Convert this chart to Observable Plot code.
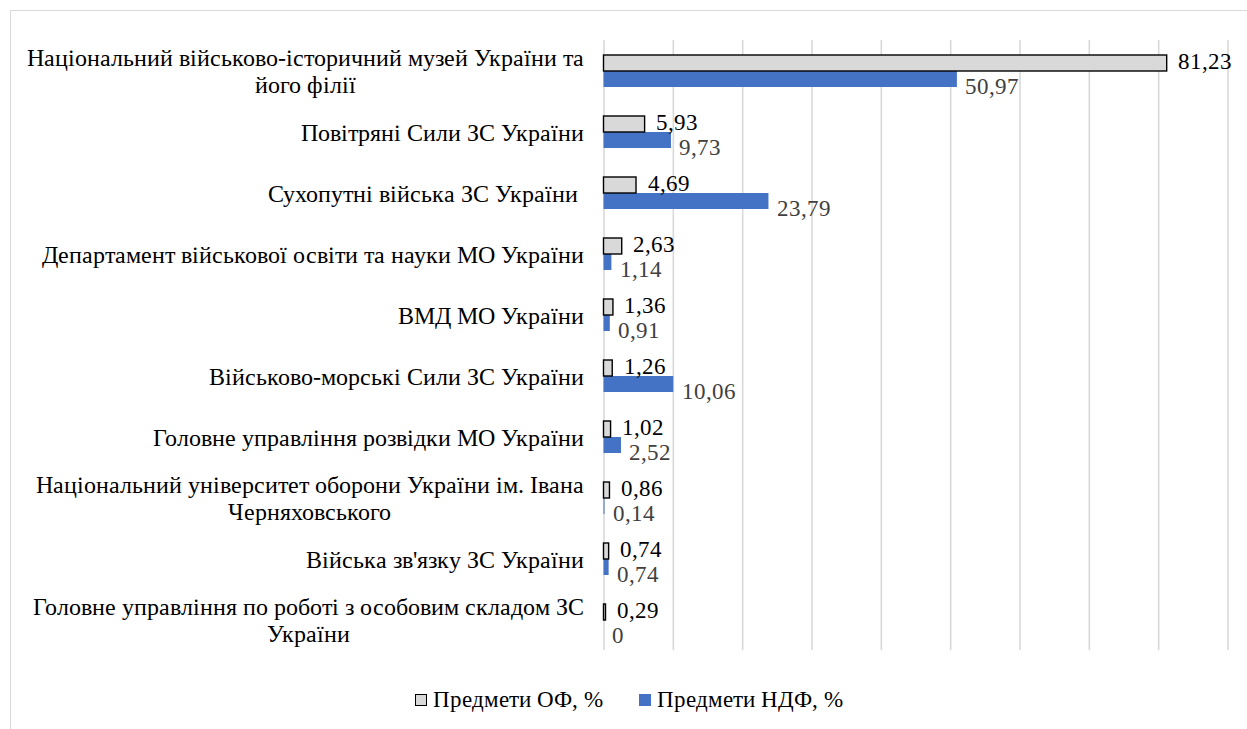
<!DOCTYPE html>
<html>
<head>
<meta charset="utf-8">
<script src="https://cdn.jsdelivr.net/npm/d3@7"></script>
<script src="https://cdn.jsdelivr.net/npm/@observablehq/plot@0.6"></script>
<style>
  @font-face { font-family: "ChartSerif"; src: local("Liberation Serif"), local("LiberationSerif"), local("Times New Roman"); }
  html, body { margin: 0; padding: 0; background: #fff; overflow: hidden; }
  #frame {
    position: absolute; left: 10px; top: 10px; width: 1260px; height: 740px;
    border-left: 1px solid #d9d9d9; border-top: 1px solid #d9d9d9; box-sizing: border-box;
  }
  #chart { position: absolute; left: -1px; top: -1px; }
  #chart svg text { white-space: pre; }
  #legend {
    position: absolute; left: -1px; top: 659px; width: 1237px; height: 60px;
    display: flex; justify-content: center; align-items: center; gap: 36px;
    font-size: 23px; color: #000;
  }
  .item { display: flex; align-items: center; }
  .sw { width: 12px; height: 12px; box-sizing: border-box; margin-right: 6px; }
</style>
</head>
<body>
<div id="frame">
  <div id="chart"></div>
  <div id="legend"></div>
</div>
<script>
const categories = [
  "Національний військово-історичний музей України та\nйого філії",
  "Повітряні Сили ЗС України",
  "Сухопутні війська ЗС України ",
  "Департамент військової освіти та науки МО України",
  "ВМД МО України",
  "Військово-морські Сили ЗС України",
  "Головне управління розвідки МО України",
  "Національний університет оборони України ім. Івана\nЧерняховського",
  "Війська зв'язку ЗС України",
  "Головне управління по роботі з особовим складом ЗС\nУкраїни"
];
const ofValues  = [81.23, 5.93, 4.69, 2.63, 1.36, 1.26, 1.02, 0.86, 0.74, 0.29];
const ndfValues = [50.97, 9.73, 23.79, 1.14, 0.91, 10.06, 2.52, 0.14, 0.74, 0];
const seriesNames = ["Предмети ОФ, %", "Предмети НДФ, %"];
const gridTicks = [0, 10, 20, 30, 40, 50, 60, 70, 80, 90];

const ofColor = "#d9d9d9";
const ndfColor = "#4472c4";
const font = "ChartSerif, 'Liberation Serif', 'Times New Roman', serif";

const rows = [];
categories.forEach((c, i) => {
  rows.push({cat: c, series: seriesNames[0], value: ofValues[i]});
  rows.push({cat: c, series: seriesNames[1], value: ndfValues[i]});
});
const ofRows = rows.filter(d => d.series === seriesNames[0]);
const ndfRows = rows.filter(d => d.series === seriesNames[1]);
const fmt = v => String(v).replace(".", ",");

const chart = Plot.plot({
  width: 1237,
  height: 660,
  marginLeft: 593.5,
  marginRight: 19.5,
  marginTop: 30,
  marginBottom: 20,
  style: {background: "transparent", overflow: "visible"},
  x: {domain: [0, 90], axis: null},
  fy: {domain: categories, padding: 0, label: null},
  y: {domain: seriesNames, paddingInner: 0, paddingOuter: 0.906, axis: null},
  marks: [
    Plot.ruleX(gridTicks, {x: d => d, stroke: "#d9d9d9", strokeWidth: 1.6}),
    Plot.barX(ndfRows, {fy: "cat", y: "series", x: "value", fill: ndfColor}),
    Plot.barX(ofRows, {fy: "cat", y: "series", x: "value", fill: ofColor, stroke: "#000", strokeWidth: 1.4}),
    Plot.text(ofRows, {fy: "cat", y: "series", x: "value", text: d => fmt(d.value),
      textAnchor: "start", dx: 11, dy: -2, fontSize: 23, fill: "#000"}),
    Plot.text(ndfRows, {fy: "cat", y: "series", x: "value", text: d => fmt(d.value),
      textAnchor: "start", dx: 8, dy: 7, fontSize: 23, fill: "#404040"}),
    Plot.axisFy({anchor: "left", tickSize: 0, tickPadding: 20.5, fontSize: 24, label: null,
      lineHeight: 1.125, fill: "#000"})
  ]
});
document.getElementById("chart").appendChild(chart);

chart.style.setProperty("font-family", font, "important");
chart.querySelectorAll("g, text, tspan").forEach(t => {
  t.setAttribute("font-family", font);
  t.style.setProperty("font-family", font, "important");
});

// center multi-line category labels as blocks (right-aligned block, centered lines)
chart.querySelectorAll("text").forEach(t => {
  const spans = t.querySelectorAll("tspan");
  if (spans.length > 1) {
    let w = 0;
    spans.forEach(s => { w = Math.max(w, s.getComputedTextLength()); });
    const x0 = +(t.getAttribute("x") || 0);
    spans.forEach(s => {
      s.setAttribute("text-anchor", "middle");
      s.setAttribute("x", x0 - w / 2);
    });
  }
});

// legend
const legend = document.getElementById("legend");
legend.style.setProperty("font-family", font, "important");
[[seriesNames[0], ofColor, "1.5px solid #000"], [seriesNames[1], ndfColor, "none"]].forEach(([name, col, border]) => {
  const it = document.createElement("div");
  it.className = "item";
  const sw = document.createElement("div");
  sw.className = "sw";
  sw.style.background = col;
  sw.style.border = border;
  const lb = document.createElement("span");
  lb.textContent = name;
  lb.style.setProperty("font-family", font, "important");
  it.appendChild(sw);
  it.appendChild(lb);
  legend.appendChild(it);
});
</script>
</body>
</html>
